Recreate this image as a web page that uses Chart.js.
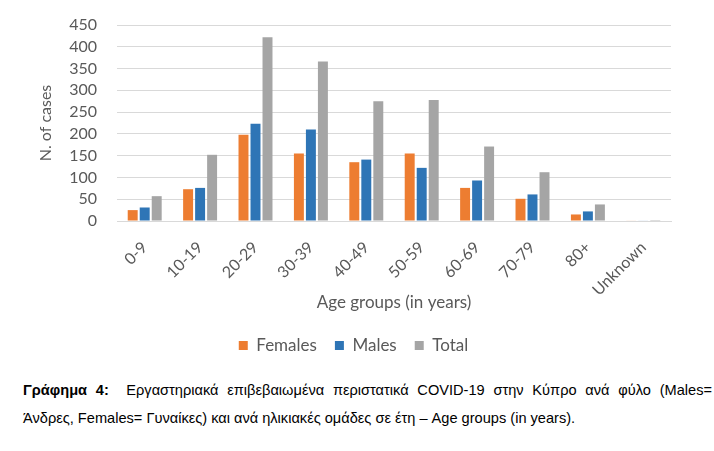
<!DOCTYPE html>
<html>
<head>
<meta charset="utf-8">
<script src="https://cdn.jsdelivr.net/npm/chart.js@4"></script>
<style>
  html, body { margin: 0; padding: 0; background: #fff; width: 714px; height: 451px; overflow: hidden; }
  #wrap { position: absolute; left: 0; top: 0; width: 714px; height: 370px; }
  .cap { position: absolute; left: 23px; font-family: "Liberation Sans", Arial, sans-serif; font-size: 14.6px; color: #000; white-space: nowrap; }
  .just { width: 689px; white-space: normal; text-align: justify; text-align-last: justify; }
</style>
</head>
<body>
<div id="wrap"><canvas id="c"></canvas></div>
<div class="cap just" style="top:382px;"><b>Γράφημα 4:</b>&nbsp; Εργαστηριακά επιβεβαιωμένα περιστατικά COVID-19 στην Κύπρο ανά φύλο (Males=</div>
<div class="cap" style="top:410px;">Άνδρες, Females= Γυναίκες) και ανά ηλικιακές ομάδες σε έτη – Age groups (in years).</div>
<script>
const categories = ["0-9","10-19","20-29","30-39","40-49","50-59","60-69","70-79","80+","Unknown"];
const females = [25, 73, 198, 155, 135, 155, 76, 51, 15, 1];
const males   = [31, 76, 223, 210, 141, 122, 93, 61, 22, 1];
const total   = [57, 152, 422, 366, 275, 278, 171, 112, 38, 2];
const yTicks  = [0, 50, 100, 150, 200, 250, 300, 350, 400, 450];

const FONT = "Lato, 'Open Sans', sans-serif";
const TXT = "#595959";

new Chart(document.getElementById('c'), {
  type: 'bar',
  data: {
    labels: categories,
    datasets: [
      { label: 'Females', data: females, backgroundColor: '#ED7D31' },
      { label: 'Males', data: males, backgroundColor: '#2E75B6' },
      { label: 'Total', data: total, backgroundColor: '#A5A5A5' }
    ]
  },
  options: {
    responsive: true,
    maintainAspectRatio: false,
    animation: false,
    layout: { padding: { left: 36, right: 43, top: 25, bottom: 6 } },
    datasets: { bar: { categoryPercentage: 0.65, barPercentage: 0.83 } },
    plugins: {
      tooltip: { enabled: false },
      legend: {
        position: 'bottom',
        labels: {
          font: { family: FONT, size: 17 },
          color: TXT,
          boxWidth: 9, boxHeight: 9,
          padding: 18
        }
      }
    },
    scales: {
      x: {
        afterFit: (axis) => { axis.height = 98; },
        grid: { display: false, drawTicks: false },
        border: { display: true, color: '#D9D9D9' },
        ticks: {
          font: { family: FONT, size: 16 },
          color: TXT,
          minRotation: 45, maxRotation: 45,
          autoSkip: false,
          padding: 17
        },
        title: {
          display: true, text: 'Age groups (in years)',
          font: { family: FONT, size: 17 }, color: TXT,
          padding: { top: 0, bottom: 6 }
        }
      },
      y: {
        min: 0, max: 450,
        afterFit: (axis) => { axis.width = 81; axis.paddingTop = 0; axis.paddingBottom = 0; },
        afterBuildTicks: (axis) => { axis.ticks = yTicks.map(v => ({ value: v })); },
        grid: { color: '#D9D9D9', drawTicks: false },
        border: { display: false },
        ticks: {
          font: { family: FONT, size: 16 },
          color: TXT,
          autoSkip: false,
          padding: 20
        },
        title: {
          display: true, text: 'N. of cases',
          font: { family: FONT, size: 16 }, color: TXT,
          padding: { top: 0, bottom: 0 }
        }
      }
    }
  }
});
</script>
</body>
</html>
